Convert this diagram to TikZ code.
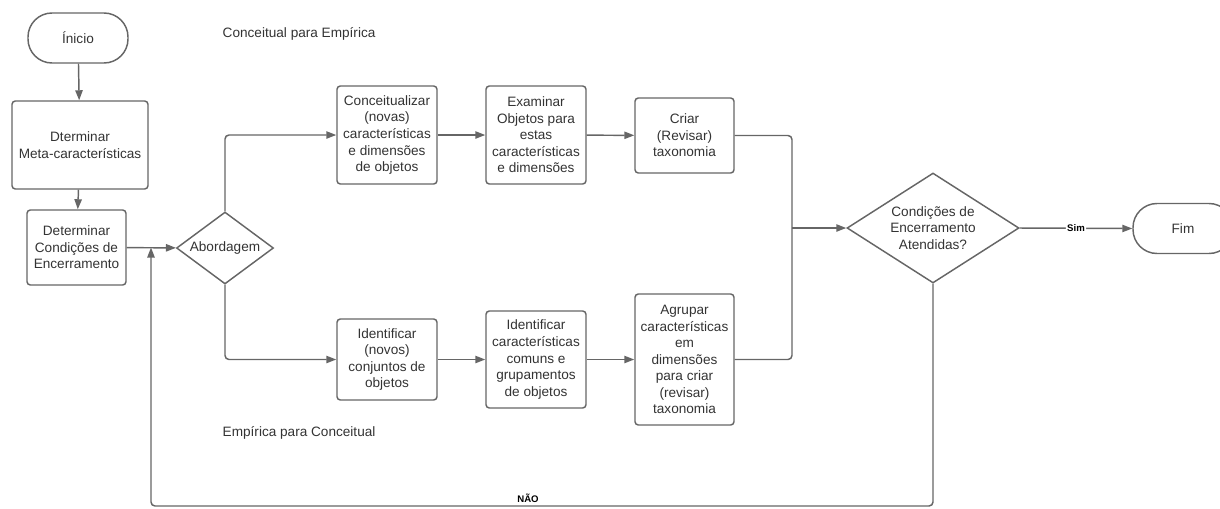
\documentclass[tikz,border=0pt]{standalone}
\usepackage{fontspec}
\setmainfont{Liberation Sans}
\usetikzlibrary{shapes.geometric,arrows.meta}
\definecolor{ln}{HTML}{666666}
\definecolor{tx}{HTML}{333333}
\begin{document}
\begin{tikzpicture}[x=0.75pt,y=-0.75pt,
  font=\fontsize{10.2}{12.4}\selectfont, text=tx,
  every path/.style={line width=1.1pt},
  box/.style={draw=ln,rounded corners=2.5pt,align=center,inner sep=0pt},
  term/.style={draw=ln,rounded corners=18pt,align=center,inner sep=0pt,minimum width=75pt,minimum height=37.5pt},
  dia/.style={draw=ln,diamond,align=center,inner sep=0pt},
  con/.style={draw=ln,rounded corners=3pt},
  arr/.style={con,-{Triangle[length=7.5pt,width=5.5pt]},ln},
  lbl/.style={font=\fontsize{7.2}{8}\selectfont\bfseries,text=black,inner sep=1pt}]
\useasboundingbox (0,0) rectangle (1220,508);
% nodes
\node[term] (ini) at (78,38) {Ínicio};
\node[box,minimum width=102pt,minimum height=66pt] (meta) at (80,145) {Dterminar\\Meta-características};
\node[box,minimum width=74.25pt,minimum height=56.25pt] (det) at (76.5,247.5) {Determinar\\Condições de\\Encerramento};
\node[dia,minimum width=72.75pt,minimum height=54pt,aspect=1.35] (abo) at (225,248) {Abordagem};
\node[box,minimum width=75pt,minimum height=73.5pt] (conc) at (387,135) {Conceitualizar\\(novas)\\características\\e dimensões\\de objetos};
\node[box,minimum width=75pt,minimum height=73.5pt] (exam) at (536,135) {Examinar\\Objetos para\\estas\\características\\e dimensões};
\node[box,minimum width=74.25pt,minimum height=56.25pt] (criar) at (684.5,135.5) {Criar\\(Revisar)\\taxonomia};
\node[box,minimum width=75pt,minimum height=60.75pt] (idn) at (387,359.5) {Identificar\\(novos)\\conjuntos de\\objetos};
\node[box,minimum width=75pt,minimum height=72.75pt] (idc) at (536,359.5) {Identificar\\características\\comuns e\\grupamentos\\de objetos};
\node[box,minimum width=74.25pt,minimum height=98.25pt] (agr) at (684.5,359.5) {Agrupar\\características\\em\\dimensões\\para criar\\(revisar)\\taxonomia};
\node[dia,minimum width=129pt,minimum height=82.5pt,aspect=1.56] (cond) at (933,228) {Condições de\\Encerramento\\Atendidas?};
\node[term] (fim) at (1183,228.5) {Fim};
% free labels
\node[anchor=west,inner sep=0pt] (t1) at (222,34) {Conceitual para Empírica};
\node[anchor=west,inner sep=0pt] (t2) at (222,433) {Empírica para Conceitual};
% coordinates
\coordinate (mrg) at (792,228);
\coordinate (loopL) at (151,506);
\coordinate (join) at (151,247.5);
% connectors
\draw[arr] (ini) -- (meta);
\draw[arr] (meta) -- (det);
\draw[arr] (det) -- (abo);
\draw[arr] (abo.north) |- (conc.west);
\draw[arr] (abo.south) |- (idn.west);
\draw[arr] (conc) -- (exam);
\draw[arr] (exam) -- (criar);
\draw[arr] (idn) -- (idc);
\draw[arr] (idc) -- (agr);
\draw[con] (criar.east) -| (mrg);
\draw[con] (agr.east) -| (mrg);
\draw[arr] (mrg) -- (cond.west);
\draw[arr] (cond.east) -- node[lbl,fill=white] (sim) {Sim} (fim.west);
\draw[arr] (cond.south) |- (loopL) -- (join);
\node[lbl,anchor=south,inner sep=0.5pt] (nao) at (528,504) {NÃO};
\end{tikzpicture}
\end{document}
